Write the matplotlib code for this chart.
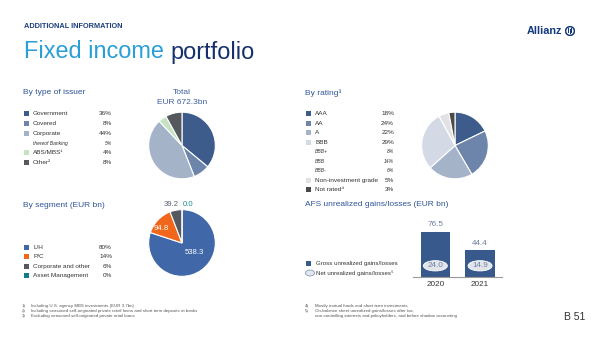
#!/usr/bin/env python3
"""
Fixed income portfolio slide: three pies and a small bar chart
"""

import matplotlib
matplotlib.use('Agg')
import matplotlib.pyplot as plt
from matplotlib.patches import Rectangle, Ellipse, Circle

plt.rcParams['font.family'] = ['Liberation Sans', 'DejaVu Sans']

W, H = 600, 337

# By type of issuer (share in %)
issuer_labels = ['Government', 'Covered', 'Corporate', 'ABS/MBS¹', 'Other²']
issuer_share = [36, 8, 44, 4, 8]
banking_label = 'thereof Banking'
banking_share = 5
total_text = 'EUR 672.3bn'

# By rating (share in %)
rating_labels = ['AAA', 'AA', 'A', 'BBB', 'Non-investment grade', 'Not rated⁴']
rating_share = [18, 24, 22, 29, 5, 3]
bbb_labels = ['BBB+', 'BBB', 'BBB-']
bbb_share = [8, 14, 6]

# By segment (EUR bn)
segment_labels = ['L/H', 'P/C', 'Corporate and other', 'Asset Management']
segment_values = [538.3, 94.8, 39.2, 0.0]
segment_share = [80, 14, 6, 0]

# AFS unrealized gains/losses (EUR bn)
years = ['2020', '2021']
gross_gains = [76.5, 44.4]
net_gains = [24.0, 14.9]

footnotes_left = [
    ('1)', 'Including U.S. agency MBS investments (EUR 3.7bn)'),
    ('2)', 'Including seasoned self-originated private retail loans and short term deposits at banks'),
    ('3)', 'Excluding seasoned self-originated private retail loans'),
]
footnotes_right = [
    ('4)', 'Mostly mutual funds and short term investments'),
    ('5)', 'On-balance sheet unrealized gains/losses after tax,'),
    ('', 'non-controlling interests and policyholders, and before shadow accounting'),
]

# colours
NAVY = '#15306b'
HEAD = '#2f5596'
TXT = '#333333'
issuer_colors = ['#3d5b8b', '#6d85aa', '#a5b3c9', '#c6e3c1', '#55595e']
rating_colors = ['#3d5b8b', '#6d85aa', '#a5b3c9', '#d3dae5', '#e2e2e2', '#4a4a4a']
segment_colors = ['#4068a8', '#f0661a', '#55585f', '#137d85']
BAR = '#38598c'


def fx(x):
    return x / W


def fy(y):
    return 1 - y / H


def text(x, y, s, **kw):
    kw.setdefault('va', 'center')
    kw.setdefault('color', TXT)
    kw.setdefault('zorder', 10)
    fig.text(fx(x), fy(y), s, **kw)


def square(x, y, color, size=5):
    fig.add_artist(Rectangle((fx(x), fy(y + size / 2)), size / W, size / H,
                             transform=fig.transFigure, color=color, lw=0))


def draw_pie(cx, cy, r, values, colors):
    ax = fig.add_axes([fx(cx - r), fy(cy + r), 2 * r / W, 2 * r / H])
    ax.pie(values, colors=colors, startangle=90, counterclock=False, radius=1,
           wedgeprops=dict(edgecolor='white', linewidth=0.8))
    # pie() resets the limits, so set them afterwards
    ax.set_xlim(-1.02, 1.02)
    ax.set_ylim(-1.02, 1.02)
    ax.axis('off')
    return ax


fig = plt.figure(figsize=(6, 3.37), dpi=100)

# header
text(24, 27, 'ADDITIONAL INFORMATION', fontsize=5.3, fontweight='bold', color='#1d3f7c')
t1 = fig.text(fx(24), fy(52), 'Fixed income ', fontsize=16.9, color='#2a9fd6', va='center')
fig.canvas.draw()
bb = t1.get_window_extent()
fig.text(bb.x1 / W, fy(52), 'portfolio', fontsize=16.9, color=NAVY, va='center')

# logo
text(527, 31, 'Allianz', fontsize=7.8, fontweight='bold', color='#123a7d')
lax = fig.add_axes([fx(565), fy(36), 10 / W, 10 / H])
lax.set_xlim(-1, 1)
lax.set_ylim(-1, 1)
lax.axis('off')
lax.add_patch(Circle((0, 0), 0.88, fill=False, ec='#123a7d', lw=1.1))
for bx, by0 in [(-0.42, -0.45), (-0.08, -0.6), (0.26, -0.45)]:
    lax.add_patch(Rectangle((bx, by0), 0.18, 1.05, color='#123a7d', lw=0))

# ---- By type of issuer
text(23, 93, 'By type of issuer', fontsize=6, color=HEAD)
text(182, 93, 'Total', fontsize=6, color='#4060a0', ha='center')
text(182, 103, total_text, fontsize=6, color='#4060a0', ha='center')

rows = list(zip(issuer_labels, issuer_share, issuer_colors))
y = 113.7
for i, (lab, val, col) in enumerate(rows):
    square(24, y, col)
    text(33, y, lab, fontsize=4.6)
    text(112, y, f'{val}%', fontsize=4.6, ha='right')
    y += 9.8
    if i == 2:
        text(33, y, banking_label, fontsize=3.6, style='italic')
        text(112, y, f'{banking_share}%', fontsize=3.6, style='italic', ha='right')
        y += 9.8

draw_pie(182, 145.5, 34, issuer_share, issuer_colors)

# ---- By rating
text(305, 93, 'By rating³', fontsize=6, color=HEAD)
y = 113.7
for i, (lab, val, col) in enumerate(zip(rating_labels, rating_share, rating_colors)):
    square(306, y, col)
    text(315, y, lab, fontsize=4.6)
    text(394, y, f'{val}%', fontsize=4.6, ha='right')
    y += 9.5
    if i == 3:
        for sl, sv in zip(bbb_labels, bbb_share):
            text(315, y, sl, fontsize=3.6, style='italic')
            text(394, y, f'{sv}%', fontsize=3.6, style='italic', ha='right')
            y += 9.5

draw_pie(455, 145.5, 34, rating_share, rating_colors)

# ---- By segment
text(23, 205.5, 'By segment (EUR bn)', fontsize=6, color=HEAD)
y = 247.3
for lab, val, col in zip(segment_labels, segment_share, segment_colors):
    square(24, y, col)
    text(33, y, lab, fontsize=4.6)
    text(112, y, f'{val}%', fontsize=4.6, ha='right')
    y += 9.45

draw_pie(182, 243, 34, segment_values, segment_colors)
seg_label_pos = [(194.5, 252.5, 'white'), (161, 228.3, 'white'),
                 (171.5, 204, '#5a6070'), (188.5, 204, '#1c8a92')]
for v, (lx, ly, c) in zip(segment_values, seg_label_pos):
    text(lx, ly, f'{v:.1f}', fontsize=5.6, ha='center', color=c)

# ---- AFS unrealized gains/losses
text(305, 205, 'AFS unrealized gains/losses (EUR bn)', fontsize=6, color=HEAD)
square(306, 263.5, BAR)
text(316, 263.5, 'Gross unrealized gains/losses', fontsize=4.4)
fig.add_artist(Ellipse((fx(310), fy(273)), 9 / W, 6 / H, transform=fig.transFigure,
                       fc='#e3e7ee', ec='#8a9ab8', lw=0.6))
text(316, 273, 'Net unrealized gains/losses⁵', fontsize=4.4)

px_per_unit = 0.587
axb = fig.add_axes([fx(413), fy(276.5), 89.4 / W, 61.5 / H])
axb.set_xlim(-0.5, 1.5)
axb.set_ylim(0, 61.5 / px_per_unit)
xs = range(len(years))
bars = axb.bar(xs, gross_gains, width=0.66, color=BAR, zorder=2)
for b, v in zip(bars, gross_gains):
    axb.annotate(f'{v:.1f}', (b.get_x() + b.get_width() / 2, v), xytext=(0, 4.8),
                 textcoords='offset points', ha='center', va='center',
                 fontsize=5.9, color='#6b7fa2')
net_y = 10.7 / px_per_unit
for x, v in zip(xs, net_gains):
    axb.add_patch(Ellipse((x, net_y), 24 / 44.7, 10.3 / px_per_unit,
                          fc='#e1e5ec', ec='white', lw=0.6, zorder=3))
    axb.text(x, net_y, f'{v:.1f}', ha='center', va='center', fontsize=5.9,
             color='#7080a0', zorder=4)
axb.set_xticks(list(xs), years)
axb.tick_params(axis='x', length=0, pad=3.6, labelsize=5.9, labelcolor=TXT)
axb.set_yticks([])
for s in ['top', 'left', 'right']:
    axb.spines[s].set_visible(False)
axb.spines['bottom'].set_color('#9a9a9a')
axb.spines['bottom'].set_linewidth(0.8)
axb.patch.set_alpha(0)

# ---- footnotes
for i, (n, s) in enumerate(footnotes_left):
    yy = 306 + i * 5
    text(22, yy, n, fontsize=3.2, color='#555555')
    text(31, yy, s, fontsize=3.2, color='#555555')
for i, (n, s) in enumerate(footnotes_right):
    yy = 306 + i * 5
    text(305, yy, n, fontsize=3.2, color='#555555')
    text(315, yy, s, fontsize=3.2, color='#555555')
text(585, 317, 'B 51', fontsize=7.5, ha='right')

fig.savefig('out.png', dpi=100)
